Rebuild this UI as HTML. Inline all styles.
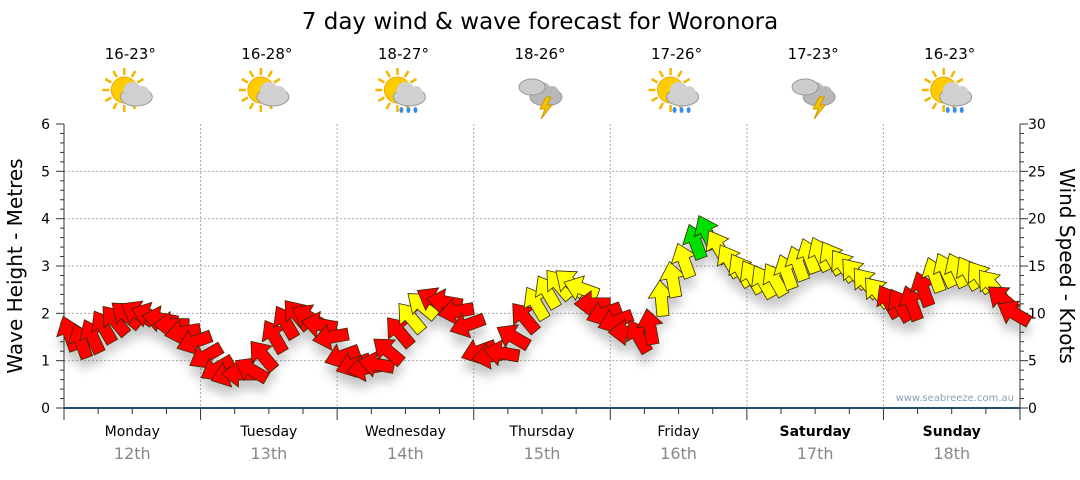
<!DOCTYPE html>
<html><head><meta charset="utf-8"><style>
body{margin:0;background:#fff;font-family:"Liberation Sans",sans-serif}
svg text{font-family:"DejaVu Sans","Liberation Sans",sans-serif}
</style></head><body>
<svg id="c" width="1080" height="475">
<defs><filter id="sh" x="-50%" y="-50%" width="200%" height="200%"><feGaussianBlur stdDeviation="5"/></filter></defs>
<text x="540" y="29" font-size="23" text-anchor="middle" fill="#000">7 day wind &amp; wave forecast for Woronora</text>
<g id="grid"></g><g id="axes"></g><g id="icons"></g><g id="shadows" filter="url(#sh)" opacity="0.3"></g><g id="arrows"></g>
<text x="1014" y="401" font-size="10" text-anchor="end" fill="#8aa0b8">www.seabreeze.com.au</text>
<text transform="translate(22,266) rotate(-90)" font-size="20" text-anchor="middle">Wave Height - Metres</text>
<text transform="translate(1060,266) rotate(90)" font-size="20" text-anchor="middle">Wind Speed - Knots</text>
</svg>
<script>
const days=["Monday","Tuesday","Wednesday","Thursday","Friday","Saturday","Sunday"];
const dates=["12th","13th","14th","15th","16th","17th","18th"];
const temps=["16-23°","16-28°","18-27°","18-26°","17-26°","17-23°","16-23°"];
const icons=["suncloud","suncloud","sunrain","storm","sunrain","storm","sunrain"];
const waveTicks=[0,1,2,3,4,5,6];
const windTicks=[0,5,10,15,20,25,30];
const speeds=[7.8,7.0,7.5,8.5,9.2,9.8,10.0,9.8,9.4,8.8,8.0,7.0,
5.5,4.2,3.6,3.6,4.0,5.5,7.5,9.0,9.8,9.6,8.8,7.5,
5.5,4.6,4.2,4.6,6.0,8.0,9.5,10.8,11.4,11.2,10.2,8.8,
6.0,5.5,5.8,7.5,9.5,11.0,12.2,13.0,13.2,12.6,11.0,10.0,
9.2,8.0,7.5,8.5,11.5,13.5,15.5,17.5,18.5,17.0,15.5,14.5,
13.8,13.3,13.5,14.3,15.2,16.0,16.2,15.8,15.0,14.2,13.2,12.2,
11.2,10.8,11.0,12.5,14.0,14.5,14.5,14.2,13.8,13.0,11.5,10.0];
const dirs=[-20,-20,-25,-30,-40,-50,-60,-70,-80,-90,-100,-110,
-120,-120,-110,-90,-60,-40,-30,-30,-40,-60,-80,-100,
-110,-110,-100,-80,-50,-40,-40,-50,-60,-80,-100,-110,
-110,-100,-80,-60,-40,-30,-30,-40,-50,-70,-90,-110,
-110,-90,-30,-10,-5,-10,-20,-20,-25,-30,-30,-30,
-30,-30,-30,-20,-20,-20,-25,-30,-35,-40,-40,-40,
-30,-30,-20,-20,-20,-25,-25,-30,-35,-40,-50,-60];
const colors=["r","r","r","r","r","r","r","r","r","r","r","r",
"r","r","r","r","r","r","r","r","r","r","r","r",
"r","r","r","r","r","r","y","y","r","r","r","r",
"r","r","r","r","r","y","y","y","y","y","r","r",
"r","r","r","r","y","y","y","g","g","y","y","y",
"y","y","y","y","y","y","y","y","y","y","y","y",
"r","r","r","r","y","y","y","y","y","y","r","r"];
const X0=64,X1=1020,Y0=408,Y1=124,DW=(X1-X0)/7;
const xT=h=>X0+h/24*DW;
const yW=m=>Y0-(m/6)*(Y0-Y1);
const yK=k=>Y0-(k/30)*(Y0-Y1);
const NS="http://www.w3.org/2000/svg";
function mk(t,a,p){const e=document.createElementNS(NS,t);for(const k in a)e.setAttribute(k,a[k]);(p||document.getElementById('c')).appendChild(e);return e;}
const grid=document.getElementById('grid'),axes=document.getElementById('axes');
waveTicks.forEach(v=>{const y=yW(v);
 if(v>0&&v<6){const l=mk('line',{x1:X0,x2:X1,y1:y,y2:y,stroke:'#aaa','stroke-dasharray':'2,2'},grid);}
 const t=mk('text',{x:50,y:y+5,'font-size':14,'text-anchor':'end'},axes);t.textContent=v;
});
windTicks.forEach(v=>{const y=yK(v);const t=mk('text',{x:1028,y:y+5,'font-size':14},axes);t.textContent=v;});
for(let i=0;i<=30;i++){const y=Y0-i*(Y0-Y1)/30;const w=i%5==0?8:4;
 mk('line',{x1:X0-w,x2:X0,y1:y,y2:y,stroke:'#333'},axes);mk('line',{x1:X1,x2:X1+w,y1:y,y2:y,stroke:'#333'},axes);}
mk('line',{x1:X0,x2:X0,y1:Y1,y2:Y0,stroke:'#333'},axes);mk('line',{x1:X1,x2:X1,y1:Y1,y2:Y0,stroke:'#333'},axes);
mk('line',{x1:X0,x2:X1,y1:Y0,y2:Y0,stroke:'#1f4e6e','stroke-width':2},axes);
for(let h=0;h<=168;h+=6){const x=xT(h);mk('line',{x1:x,x2:x,y1:Y0,y2:Y0+(h%24==0?12:6),stroke:'#333'},axes);}
days.forEach((d,i)=>{const cx=X0+(i+0.5)*DW;
 if(i>0){const l=mk('line',{x1:X0+i*DW,x2:X0+i*DW,y1:Y1,y2:Y0,stroke:'#aaa','stroke-dasharray':'2,2'},grid);}
 let t=mk('text',{x:cx,y:436,'font-size':14,'text-anchor':'middle','font-weight':i>=5?'bold':'normal'},axes);t.textContent=d;
 t=mk('text',{x:cx,y:459,'font-size':16,'text-anchor':'middle',fill:'#888'},axes);t.textContent=dates[i];
 t=mk('text',{x:cx-2,y:59,'font-size':15,'text-anchor':'middle'},axes);t.textContent=temps[i];
 const g=mk('g',{transform:`translate(${cx-2},93)`},document.getElementById('icons'));
 
 
 const kind=icons[i];
 if(kind!='storm'){for(let a=0;a<360;a+=30){const r=a*Math.PI/180;mk('line',{x1:-6+Math.cos(r)*15,y1:-3+Math.sin(r)*15,x2:-6+Math.cos(r)*22,y2:-3+Math.sin(r)*22,stroke:'#f2b600','stroke-width':2.5},g);}
  mk('circle',{cx:-6,cy:-3,r:13,fill:'#ffcc00',stroke:'#f0a800'},g);}
 const cc=kind=='storm'?'#b8b8b8':'#d0d0d0';
 mk('ellipse',{cx:6,cy:4,rx:16,ry:9,fill:cc,stroke:'#999'},g);mk('circle',{cx:2,cy:-2,r:9,fill:cc},g);mk('circle',{cx:12,cy:0,r:7,fill:cc},g);
 if(kind=='storm'){mk('ellipse',{cx:-8,cy:-6,rx:13,ry:8,fill:'#ccc',stroke:'#999'},g);mk('polygon',{points:'6,4 0,16 5,16 1,26 12,12 7,12 11,4',fill:'#f5c400',stroke:'#c90'},g);}
 if(kind=='sunrain'){[-2,5,12].forEach(x=>mk('ellipse',{cx:x,cy:17,rx:2,ry:3,fill:'#3a8ee0'},g));}
});
const fill={r:'#ff0000',y:'#ffff00',g:'#00e000'};
const pts="0,-19 13,-2 6,-2 6,17 -6,17 -6,-2 -13,-2";
speeds.forEach((s,i)=>{const h=1+i*2,x=xT(h),y=yK(s);
 mk('polygon',{points:pts,transform:`translate(${x},${y+10}) rotate(${dirs[i]})`,fill:'#444'},document.getElementById('shadows'));
});
speeds.forEach((s,i)=>{const h=1+i*2,x=xT(h),y=yK(s);
 const p=mk('polygon',{points:pts,transform:`translate(${x},${y}) rotate(${dirs[i]})`,fill:fill[colors[i]],stroke:'#3a2a00','stroke-width':0.8},document.getElementById('arrows'));
 
 
});
</script>
</body></html>
